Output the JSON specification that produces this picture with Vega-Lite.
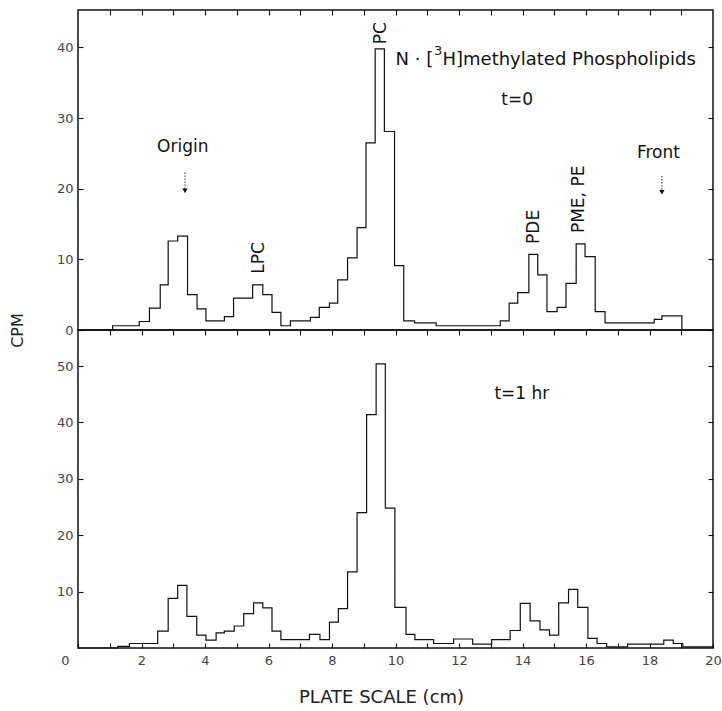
{
  "$schema": "https://vega.github.io/schema/vega-lite/v6.json",
  "background": "white",
  "padding": {"left": 8, "top": 8, "right": 5, "bottom": 5},
  "spacing": 0,
  "bounds": "flush",
  "config": {
    "view": {"stroke": "#111", "strokeWidth": 1.5},
    "axis": {"grid": false, "domain": false, "tickColor": "#111", "tickWidth": 1.1, "labelFont": "DejaVu Sans", "labelFontSize": 13, "labelColor": "#444", "titleFont": "DejaVu Sans", "titleFontWeight": "normal", "titleColor": "#222", "labelOverlap": false},
    "text": {"font": "DejaVu Sans", "fontSize": 17, "color": "#111"}
  },
  "datasets": {
    "t0": [
      {"x": 0, "cpm": 0}, {"x": 1.09, "cpm": 0.6}, {"x": 1.93, "cpm": 1.2}, {"x": 2.25, "cpm": 3.1},
      {"x": 2.59, "cpm": 6.4}, {"x": 2.84, "cpm": 12.6}, {"x": 3.14, "cpm": 13.3}, {"x": 3.45, "cpm": 5.0},
      {"x": 3.75, "cpm": 3.0}, {"x": 4.03, "cpm": 1.3}, {"x": 4.61, "cpm": 1.9}, {"x": 4.90, "cpm": 4.5},
      {"x": 5.50, "cpm": 6.4}, {"x": 5.82, "cpm": 5.0}, {"x": 6.11, "cpm": 2.5}, {"x": 6.39, "cpm": 0.6},
      {"x": 6.69, "cpm": 1.3}, {"x": 7.32, "cpm": 1.8}, {"x": 7.60, "cpm": 3.2}, {"x": 7.92, "cpm": 3.8},
      {"x": 8.18, "cpm": 7.1}, {"x": 8.49, "cpm": 10.2}, {"x": 8.79, "cpm": 14.5}, {"x": 9.07, "cpm": 26.5},
      {"x": 9.36, "cpm": 39.8}, {"x": 9.65, "cpm": 28.1}, {"x": 9.97, "cpm": 9.1}, {"x": 10.26, "cpm": 1.3},
      {"x": 10.6, "cpm": 1.0}, {"x": 11.28, "cpm": 0.6}, {"x": 13.3, "cpm": 1.3}, {"x": 13.58, "cpm": 3.8},
      {"x": 13.85, "cpm": 5.3}, {"x": 14.2, "cpm": 10.7}, {"x": 14.48, "cpm": 7.8}, {"x": 14.77, "cpm": 2.6},
      {"x": 15.09, "cpm": 3.2}, {"x": 15.37, "cpm": 6.6}, {"x": 15.69, "cpm": 12.2}, {"x": 15.97, "cpm": 10.4},
      {"x": 16.29, "cpm": 2.6}, {"x": 16.6, "cpm": 1.0}, {"x": 18.15, "cpm": 1.5}, {"x": 18.39, "cpm": 2.0},
      {"x": 19.02, "cpm": 0}, {"x": 20, "cpm": 0}
    ],
    "t1": [
      {"x": 0, "cpm": 0}, {"x": 1.25, "cpm": 0.3}, {"x": 1.62, "cpm": 0.8}, {"x": 2.51, "cpm": 3.0},
      {"x": 2.84, "cpm": 8.8}, {"x": 3.14, "cpm": 11.1}, {"x": 3.43, "cpm": 5.6}, {"x": 3.74, "cpm": 2.3},
      {"x": 4.03, "cpm": 1.4}, {"x": 4.35, "cpm": 2.7}, {"x": 4.61, "cpm": 3.0}, {"x": 4.92, "cpm": 3.9},
      {"x": 5.22, "cpm": 6.1}, {"x": 5.53, "cpm": 8.0}, {"x": 5.82, "cpm": 7.1}, {"x": 6.11, "cpm": 3.0},
      {"x": 6.39, "cpm": 1.5}, {"x": 7.29, "cpm": 2.4}, {"x": 7.62, "cpm": 1.5}, {"x": 7.92, "cpm": 4.6},
      {"x": 8.20, "cpm": 7.0}, {"x": 8.49, "cpm": 13.5}, {"x": 8.79, "cpm": 24.0}, {"x": 9.09, "cpm": 41.4},
      {"x": 9.39, "cpm": 50.4}, {"x": 9.68, "cpm": 24.8}, {"x": 9.98, "cpm": 7.2}, {"x": 10.33, "cpm": 2.4},
      {"x": 10.61, "cpm": 1.5}, {"x": 11.2, "cpm": 0.8}, {"x": 11.83, "cpm": 1.6}, {"x": 12.43, "cpm": 0.7},
      {"x": 13.03, "cpm": 1.5}, {"x": 13.61, "cpm": 3.1}, {"x": 13.93, "cpm": 7.9}, {"x": 14.24, "cpm": 4.8},
      {"x": 14.55, "cpm": 3.2}, {"x": 14.85, "cpm": 2.3}, {"x": 15.14, "cpm": 8.0}, {"x": 15.45, "cpm": 10.4},
      {"x": 15.74, "cpm": 7.2}, {"x": 16.06, "cpm": 1.7}, {"x": 16.35, "cpm": 0.8}, {"x": 16.65, "cpm": 0.2},
      {"x": 17.31, "cpm": 0.7}, {"x": 18.45, "cpm": 1.4}, {"x": 18.75, "cpm": 0.8}, {"x": 19.05, "cpm": 0.2},
      {"x": 20, "cpm": 0.2}
    ]
  },
  "vconcat": [
    {
      "width": 635,
      "height": 320,
      "resolve": {"axis": {"x": "independent", "y": "independent"}},
      "layer": [
        {
          "data": {"name": "t0"},
          "mark": {"type": "line", "interpolate": "step-after", "color": "#111", "strokeWidth": 1.2},
          "encoding": {
            "x": {"field": "x", "type": "quantitative", "scale": {"domain": [0, 20], "nice": false},
                  "axis": {"orient": "top", "values": [1,2,3,4,5,6,7,8,9,10,11,12,13,14,15,16,17,18,19], "tickSize": -5, "labels": false, "title": null}},
            "y": {"field": "cpm", "type": "quantitative", "scale": {"domain": [0, 45.3], "nice": false},
                  "axis": {"orient": "left", "values": [0, 10, 20, 30, 40], "tickSize": -5, "labelPadding": 10,
                           "title": "CPM", "titleX": -53, "titleY": 320, "titleFontSize": 16}}
          }
        },
        {
          "data": {"values": [{"x": 3.30, "y": 25.2, "t": "Origin"}, {"x": 13.83, "y": 31.8, "t": "t=0"}, {"x": 18.28, "y": 24.3, "t": "Front"}]},
          "mark": {"type": "text", "align": "center", "baseline": "alphabetic"},
          "encoding": {
            "x": {"field": "x", "type": "quantitative", "axis": null},
            "y": {"field": "y", "type": "quantitative",
                  "axis": {"orient": "right", "values": [0, 10, 20, 30, 40], "tickSize": -5, "labels": false, "title": null}},
            "text": {"field": "t"}
          }
        },
        {
          "data": {"values": [{"x": 10.0, "y": 37.5, "t": "N · ["}, {"x": 11.48, "y": 37.5, "t": "H]methylated Phospholipids"}]},
          "mark": {"type": "text", "align": "left", "baseline": "alphabetic", "fontSize": 18},
          "encoding": {
            "x": {"field": "x", "type": "quantitative", "axis": null},
            "y": {"field": "y", "type": "quantitative", "axis": null},
            "text": {"field": "t"}
          }
        },
        {
          "data": {"values": [{"x": 11.21, "y": 38.9, "t": "3"}]},
          "mark": {"type": "text", "align": "left", "baseline": "alphabetic", "fontSize": 13},
          "encoding": {
            "x": {"field": "x", "type": "quantitative", "axis": null},
            "y": {"field": "y", "type": "quantitative", "axis": null},
            "text": {"field": "t"}
          }
        },
        {
          "data": {"values": [{"x": 5.87, "y": 10.2, "t": "LPC"}, {"x": 9.70, "y": 42.0, "t": "PC"}, {"x": 14.53, "y": 14.6, "t": "PDE"}, {"x": 15.95, "y": 18.5, "t": "PME, PE"}]},
          "mark": {"type": "text", "align": "center", "baseline": "alphabetic", "angle": 270},
          "encoding": {
            "x": {"field": "x", "type": "quantitative", "axis": null},
            "y": {"field": "y", "type": "quantitative", "axis": null},
            "text": {"field": "t"}
          }
        },
        {
          "data": {"values": [{"x": 3.37, "y": 22.3, "y2": 19.9}, {"x": 18.39, "y": 21.8, "y2": 19.8}]},
          "mark": {"type": "rule", "strokeDash": [1.5, 1.5], "strokeWidth": 1, "color": "#333"},
          "encoding": {
            "x": {"field": "x", "type": "quantitative", "axis": null},
            "y": {"field": "y", "type": "quantitative", "axis": null},
            "y2": {"field": "y2"}
          }
        },
        {
          "data": {"values": [{"x": 3.37, "y": 19.7}, {"x": 18.39, "y": 19.5}]},
          "mark": {"type": "point", "shape": "triangle-down", "filled": true, "size": 28, "color": "#111", "opacity": 1},
          "encoding": {
            "x": {"field": "x", "type": "quantitative", "axis": null},
            "y": {"field": "y", "type": "quantitative", "axis": null}
          }
        }
      ]
    },
    {
      "width": 635,
      "height": 318,
      "resolve": {"axis": {"x": "independent", "y": "independent"}},
      "layer": [
        {
          "data": {"name": "t1"},
          "mark": {"type": "line", "interpolate": "step-after", "color": "#111", "strokeWidth": 1.2},
          "encoding": {
            "x": {"field": "x", "type": "quantitative", "scale": {"domain": [0, 20], "nice": false},
                  "axis": {"orient": "bottom", "values": [0,1,2,3,4,5,6,7,8,9,10,11,12,13,14,15,16,17,18,19,20], "tickSize": -5,
                           "labelExpr": "datum.value % 2 == 0 ? datum.label : ''", "labelFlush": false, "labelPadding": 11,
                           "labelOffset": {"condition": {"test": "datum.value == 0", "value": -13}, "value": 0},
                           "title": "PLATE SCALE (cm)", "titleFontSize": 18, "titlePadding": 21, "titleX": 303, "titleAlign": "center"}},
            "y": {"field": "cpm", "type": "quantitative", "scale": {"domain": [0, 56.4], "nice": false},
                  "axis": {"orient": "left", "values": [10, 20, 30, 40, 50], "tickSize": -5, "labelPadding": 10, "title": null}}
          }
        },
        {
          "data": {"values": [{"x": 13.98, "y": 44.2, "t": "t=1 hr"}]},
          "mark": {"type": "text", "align": "center", "baseline": "alphabetic"},
          "encoding": {
            "x": {"field": "x", "type": "quantitative",
                  "axis": {"orient": "top", "values": [1,2,3,4,5,6,7,8,9,10,11,12,13,14,15,16,17,18,19], "tickSize": -5, "labels": false, "title": null}},
            "y": {"field": "y", "type": "quantitative",
                  "axis": {"orient": "right", "values": [10, 20, 30, 40, 50], "tickSize": -5, "labels": false, "title": null}},
            "text": {"field": "t"}
          }
        }
      ]
    }
  ]
}
